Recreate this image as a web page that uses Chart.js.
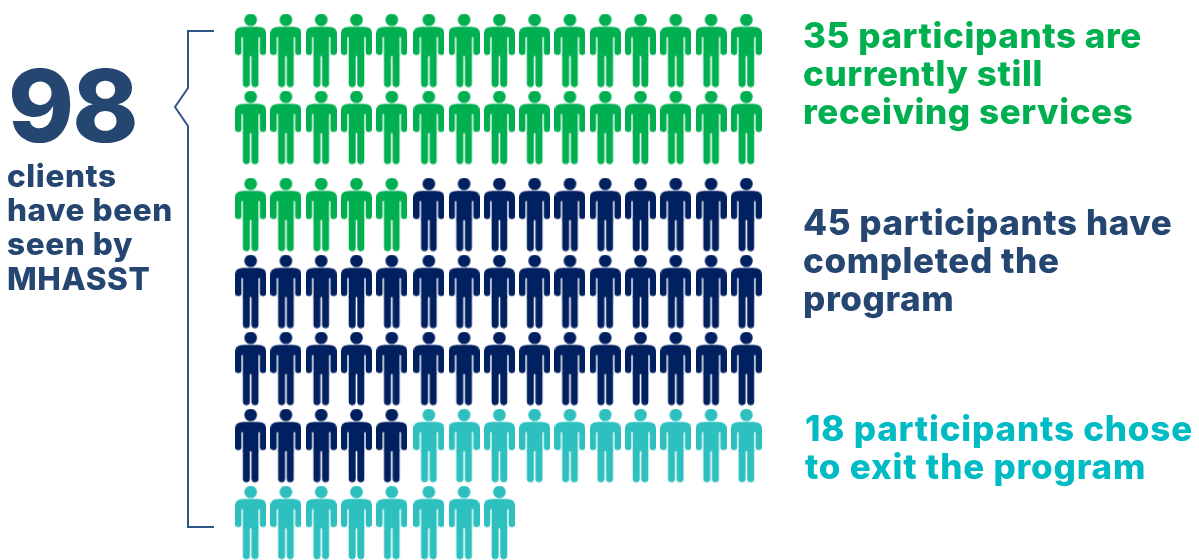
<!DOCTYPE html>
<html>
<head>
<meta charset="utf-8">
<title>MHASST clients</title>
<script src="https://cdn.jsdelivr.net/npm/chart.js@4/dist/chart.umd.min.js"></script>
<style>
html, body { margin: 0; padding: 0; background: #fff; }
#wrap { position: relative; width: 1199px; height: 560px; overflow: hidden; }
#grafica { position: absolute; left: 0; top: 0; }
.txt { position: absolute; font-family: "Inter", sans-serif; font-weight: 800; white-space: pre; }
#total { left: 8px; top: 46px; font-size: 100px; line-height: 120px; color: #264672; font-weight: 800; letter-spacing: -2px; }
#clients { left: 7px; top: 159px; font-size: 31.5px; line-height: 34.2px; color: #264672; letter-spacing: 0.6px; }
#t0, #t1, #t2 { left: 803px; font-size: 35px; line-height: 38px; letter-spacing: 0.58px; }
#t0 { top: 16px; color: #00AF50; }
#t1 { top: 203px; color: #264672; }
#t2 { top: 409px; left: 805px; color: #00BBC4; letter-spacing: 0.8px; }
</style>
</head>
<body>
<div id="wrap">
  <canvas id="grafica" width="1199" height="560"></canvas>
  <div class="txt" id="total">98</div>
  <div class="txt" id="clients">clients
have been
seen by
MHASST</div>
  <div class="txt" id="t0">35 participants are
currently still
receiving services</div>
  <div class="txt" id="t1">45 participants have
completed the
program</div>
  <div class="txt" id="t2">18 participants chose
to exit the program</div>
</div>
<script>
// Datos del pictograma
const categorias = ['Receiving services', 'Completed the program', 'Chose to exit'];
const participantes = [35, 45, 18];
const colores = ['#00AF50', '#002060', '#2EBFBF'];

// Filas y columnas de la reticula (hay un hueco tras la fila 2 y la columna 5)
const columnas = [0, 1, 2, 3, 4, 5.05, 6.05, 7.05, 8.05, 9.05, 10.05, 11.05, 12.05, 13.05, 14.05];
const filas = [0, 1, 2.13, 3.13, 4.13, 5.13, 6.13];

// Dibuja una persona en un canvas para usarla como pointStyle
function crearPersona(color) {
    const c = document.createElement('canvas');
    c.width = 31;
    c.height = 74;
    const g = c.getContext('2d');
    g.fillStyle = color;
    g.beginPath();
    g.arc(15.5, 6.3, 6.3, 0, Math.PI * 2);
    g.fill();
    // hombros
    g.beginPath();
    g.roundRect(0, 13.5, 31, 10, [6, 6, 0, 0]);
    g.fill();
    // brazos
    g.beginPath();
    g.roundRect(0, 20, 6.3, 21.5, [0, 0, 3, 3]);
    g.roundRect(24.7, 20, 6.3, 21.5, [0, 0, 3, 3]);
    g.fill();
    // tronco
    g.fillRect(7.7, 13.5, 15.6, 29);
    // piernas
    g.beginPath();
    g.roundRect(7.7, 41, 7, 32.5, [0, 0, 3.5, 3.5]);
    g.roundRect(16.3, 41, 7, 32.5, [0, 0, 3.5, 3.5]);
    g.fill();
    return c;
}

// Reparte a los participantes por la reticula, fila por fila
let posicion = 0;
const datasets = categorias.map((nombre, i) => {
    const puntos = [];
    for (let n = 0; n < participantes[i]; n++) {
        puntos.push({
            x: columnas[posicion % columnas.length],
            y: filas[Math.floor(posicion / columnas.length)]
        });
        posicion++;
    }
    return {
        label: nombre,
        data: puntos,
        pointStyle: crearPersona(colores[i]),
        showLine: false,
        clip: false
    };
});

// La llave que agrupa a todos los clientes
const llave = {
    id: 'llave',
    afterDraw(chart) {
        const g = chart.ctx;
        const xv = 188;
        g.save();
        g.strokeStyle = '#2F5587';
        g.lineWidth = 2;
        g.beginPath();
        g.moveTo(214, 31);
        g.lineTo(xv, 31);
        g.lineTo(xv, 88);
        g.lineTo(xv - 13, 107);
        g.lineTo(xv, 126);
        g.lineTo(xv, 527);
        g.lineTo(214, 527);
        g.stroke();
        g.restore();
    }
};

new Chart(document.getElementById('grafica').getContext('2d'), {
    type: 'scatter',
    data: { datasets: datasets },
    plugins: [llave],
    options: {
        responsive: false,
        animation: false,
        layout: { padding: { left: 233, right: 435, top: 12, bottom: 0 } },
        plugins: { legend: { display: false }, tooltip: { enabled: false } },
        scales: {
            x: { display: false, min: -0.5, max: 14.55 },
            y: { display: false, reverse: true, min: -0.5, max: 6.55 }
        }
    }
});
</script>
</body>
</html>
